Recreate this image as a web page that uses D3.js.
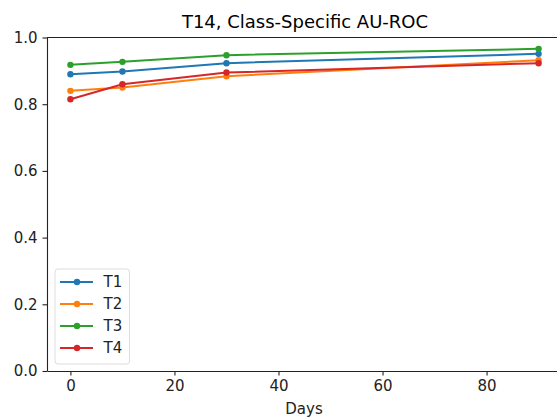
<!DOCTYPE html>
<html>
<head>
<meta charset="utf-8">
<script src="https://cdn.jsdelivr.net/npm/d3@7"></script>
<style>
  body { margin: 0; background: #fff; }
  text { font-family: "DejaVu Sans", sans-serif; }
</style>
</head>
<body>
<div id="chart-container"></div>
<script>
// Data
const days = [0, 10, 30, 90];
const seriesNames = ["T1", "T2", "T3", "T4"];
const t1 = [0.890, 0.898, 0.923, 0.951];
const t2 = [0.840, 0.850, 0.884, 0.932];
const t3 = [0.918, 0.927, 0.947, 0.966];
const t4 = [0.815, 0.860, 0.895, 0.923];
const xTicks = [0, 20, 40, 60, 80];
const yTicks = [0.0, 0.2, 0.4, 0.6, 0.8, 1.0];
const colors = ["#1f77b4", "#ff7f0e", "#2ca02c", "#d62728"];

const seriesValues = [t1, t2, t3, t4];
const series = seriesNames.map((name, i) => ({
  name: name,
  color: colors[i],
  points: days.map((d, j) => ({ day: d, value: seriesValues[i][j] }))
}));

const width = 557;
const height = 417;
const marginLeft = 47;
const marginTop = 37.5;
const plotBottom = 371;
const plotRight = 562;

const x = d3.scaleLinear()
  .domain([-4.5, 94.5])
  .range([marginLeft, plotRight]);

const y = d3.scaleLinear()
  .domain([0, 1])
  .range([plotBottom, marginTop]);

const svg = d3.create("svg")
  .attr("width", width)
  .attr("height", height)
  .attr("viewBox", [0, 0, width, height]);

// Title
svg.append("text")
  .attr("x", 305)
  .attr("y", 28)
  .attr("text-anchor", "middle")
  .attr("font-size", "18px")
  .attr("fill", "#000")
  .text("T14, Class-Specific AU-ROC");

// Lines
const line = d3.line()
  .x(d => x(d.day))
  .y(d => y(d.value));

const plot = svg.append("g");

series.forEach(s => {
  plot.append("path")
    .attr("fill", "none")
    .attr("stroke", s.color)
    .attr("stroke-width", 2)
    .attr("d", line(s.points));
  plot.selectAll(null)
    .data(s.points)
    .join("circle")
    .attr("cx", d => x(d.day))
    .attr("cy", d => y(d.value))
    .attr("r", 3.2)
    .attr("fill", s.color);
});

// Axes
svg.append("g")
  .attr("transform", `translate(0,${plotBottom})`)
  .call(d3.axisBottom(x).tickValues(xTicks).tickSize(4.5).tickPadding(5).tickSizeOuter(0))
  .call(g => g.selectAll("text").attr("font-size", "15px").attr("fill", "#222").attr("font-family", "DejaVu Sans"))
  .call(g => g.selectAll("line, path").attr("stroke", "#222").attr("stroke-width", 1.1));

svg.append("g")
  .attr("transform", `translate(${marginLeft},0)`)
  .call(d3.axisLeft(y).tickValues(yTicks).tickFormat(d3.format(".1f")).tickSize(4.5).tickPadding(5).tickSizeOuter(0))
  .call(g => g.selectAll("text").attr("font-size", "15px").attr("fill", "#222").attr("font-family", "DejaVu Sans"))
  .call(g => g.selectAll("line, path").attr("stroke", "#222").attr("stroke-width", 1.1));

// Top spine
svg.append("line")
  .attr("x1", marginLeft)
  .attr("x2", plotRight)
  .attr("y1", marginTop)
  .attr("y2", marginTop)
  .attr("stroke", "#222")
  .attr("stroke-width", 1.1);

// X label
svg.append("text")
  .attr("x", 304)
  .attr("y", 414)
  .attr("text-anchor", "middle")
  .attr("font-size", "15px")
  .attr("fill", "#222")
  .text("Days");

// Legend
const legend = svg.append("g")
  .attr("transform", "translate(55,269)");

legend.append("rect")
  .attr("width", 74.5)
  .attr("height", 95)
  .attr("rx", 3)
  .attr("fill", "#fff")
  .attr("fill-opacity", 0.8)
  .attr("stroke", "#ddd");

const items = legend.selectAll("g.item")
  .data(series)
  .join("g")
  .attr("class", "item")
  .attr("transform", (d, i) => `translate(0,${13 + i * 22})`);

items.append("line")
  .attr("x1", 5)
  .attr("x2", 38)
  .attr("stroke", d => d.color)
  .attr("stroke-width", 2);

items.append("circle")
  .attr("cx", 22)
  .attr("r", 3.2)
  .attr("fill", d => d.color);

items.append("text")
  .attr("x", 48.5)
  .attr("dy", "0.35em")
  .attr("font-size", "15px")
  .attr("fill", "#222")
  .text(d => d.name);

document.getElementById("chart-container").appendChild(svg.node());
</script>
</body>
</html>
